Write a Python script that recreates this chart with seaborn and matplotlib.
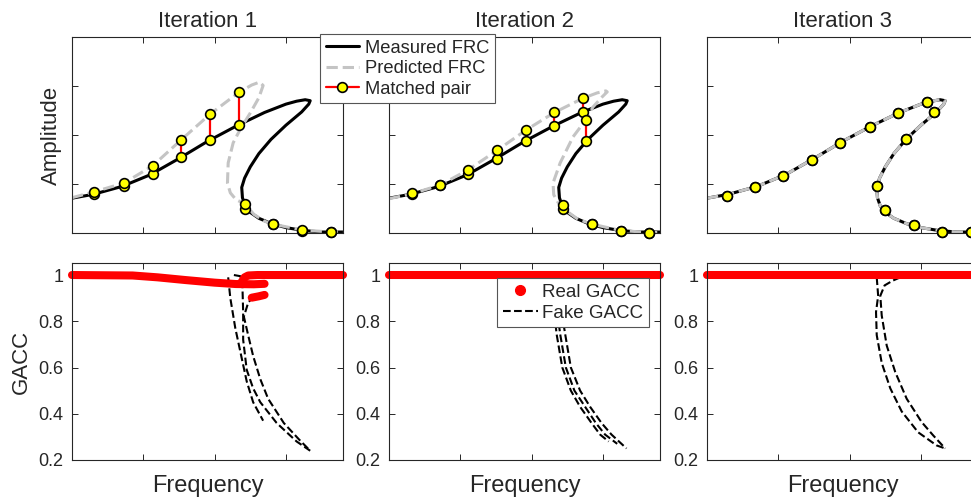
import matplotlib
matplotlib.use("Agg")
import matplotlib.pyplot as plt
from matplotlib.lines import Line2D
import seaborn as sns

# ---- data (frequency / amplitude in arbitrary units) ----
# measured FRC (same in all three iterations)
meas_x = [0.00, 0.30, 0.70, 1.10, 1.50, 1.90, 2.30, 2.70, 3.00, 3.15, 3.27, 3.34, 3.32, 3.22,
          3.00, 2.79, 2.62, 2.50, 2.42, 2.38, 2.39, 2.43, 2.50, 2.62, 2.80, 3.00, 3.25, 3.50, 3.80]
meas_y = [0.71, 0.79, 0.95, 1.19, 1.52, 1.87, 2.18, 2.46, 2.63, 2.69, 2.72, 2.70, 2.63, 2.47,
          2.20, 1.91, 1.62, 1.35, 1.12, 0.93, 0.72, 0.55, 0.42, 0.30, 0.19, 0.11, 0.05, 0.02, 0.02]

# predicted FRC, iteration 1
pred1_x = [0.00, 0.31, 0.73, 1.13, 1.53, 1.94, 2.34, 2.52, 2.63, 2.68, 2.62, 2.50, 2.36, 2.26,
           2.19, 2.18, 2.22, 2.30, 2.43, 2.55, 2.70, 2.82, 3.23, 3.63, 3.80]
pred1_y = [0.72, 0.84, 1.02, 1.37, 1.90, 2.43, 2.87, 3.02, 3.08, 3.01, 2.76, 2.45, 2.12, 1.84,
           1.43, 1.02, 0.82, 0.68, 0.59, 0.38, 0.24, 0.18, 0.06, 0.02, 0.02]
# predicted FRC, iteration 2
pred2_x = [0.00, 0.32, 0.72, 1.11, 1.52, 1.92, 2.32, 2.72, 2.92, 3.04, 3.06, 2.99, 2.86, 2.76,
           2.58, 2.40, 2.30, 2.31, 2.38, 2.48, 2.65, 2.85, 3.25, 3.65, 3.80]
pred2_y = [0.70, 0.80, 0.98, 1.29, 1.69, 2.10, 2.46, 2.75, 2.86, 2.90, 2.88, 2.78, 2.57, 2.31,
           1.96, 1.43, 1.02, 0.78, 0.60, 0.46, 0.28, 0.18, 0.05, 0.01, 0.01]
# predicted FRC, iteration 3 lies on the measured one
pred3_x = meas_x
pred3_y = meas_y

# matched pairs (frequency, measured amplitude, predicted amplitude)
pair1_x = [0.31, 0.73, 1.13, 1.53, 1.94, 2.34, 2.43, 2.82, 3.23, 3.63]
pair1_meas = [0.80, 0.95, 1.20, 1.55, 1.90, 2.20, 0.50, 0.18, 0.05, 0.02]
pair1_pred = [0.84, 1.02, 1.37, 1.90, 2.43, 2.87, 0.59, 0.19, 0.06, 0.02]

pair2_x = [0.32, 0.72, 1.11, 1.52, 1.92, 2.32, 2.72, 2.76, 2.44, 2.85, 3.25, 3.65]
pair2_meas = [0.79, 0.97, 1.20, 1.52, 1.88, 2.18, 2.46, 1.88, 0.48, 0.18, 0.05, 0.01]
pair2_pred = [0.81, 0.98, 1.29, 1.69, 2.10, 2.46, 2.75, 2.31, 0.57, 0.18, 0.05, 0.01]

pair3_x = [0.28, 0.67, 1.07, 1.47, 1.87, 2.29, 2.68, 3.08, 3.19, 2.79, 2.38, 2.49, 2.90, 3.30, 3.70]
pair3_meas = [0.76, 0.93, 1.17, 1.50, 1.84, 2.16, 2.44, 2.67, 2.46, 1.91, 0.95, 0.46, 0.16, 0.03, 0.03]
pair3_pred = pair3_meas

# real GACC
real1_a_x = [0.00, 0.85, 1.20, 1.60, 2.00, 2.30, 2.55, 2.70]
real1_a_y = [1.000, 0.998, 0.990, 0.978, 0.967, 0.961, 0.960, 0.962]
real1_b_x = [2.36, 2.39, 2.42, 2.47, 2.60, 3.80]
real1_b_y = [0.962, 0.975, 0.990, 0.998, 1.000, 1.000]
real1_c_x = [2.52, 2.62, 2.70]
real1_c_y = [0.902, 0.908, 0.914]
real_flat_x = [0.00, 3.80]
real_flat_y = [1.00, 1.00]

# fake GACC
fake1_a_x = [2.19, 2.22, 2.29, 2.38, 2.45, 2.54, 2.68]
fake1_a_y = [0.99, 0.90, 0.77, 0.64, 0.54, 0.45, 0.37]
fake1_b_x = [2.27, 2.36, 2.39, 2.40, 2.40, 2.45, 2.54, 2.64, 2.87, 3.15, 3.34]
fake1_b_y = [1.00, 0.995, 0.95, 0.84, 0.72, 0.59, 0.51, 0.45, 0.36, 0.28, 0.24]
fake1_c_x = [2.55, 2.47, 2.41, 2.47, 2.54, 2.64, 2.75, 2.97, 3.18, 3.34]
fake1_c_y = [0.91, 0.88, 0.82, 0.74, 0.65, 0.55, 0.465, 0.36, 0.29, 0.24]

fake2_a_x = [2.28, 2.31, 2.35, 2.43, 2.55, 2.68, 2.84, 2.96, 3.08]
fake2_a_y = [0.98, 0.86, 0.745, 0.60, 0.50, 0.43, 0.36, 0.31, 0.28]
fake2_b_x = [2.32, 2.35, 2.40, 2.48, 2.60, 2.75, 2.90, 3.03, 3.20]
fake2_b_y = [0.98, 0.86, 0.745, 0.60, 0.50, 0.43, 0.36, 0.31, 0.27]
fake2_c_x = [2.37, 2.41, 2.47, 2.55, 2.68, 2.82, 2.98, 3.12, 3.33]
fake2_c_y = [0.98, 0.86, 0.745, 0.60, 0.50, 0.43, 0.36, 0.31, 0.25]

fake3_a_x = [2.38, 2.40, 2.37, 2.38, 2.45, 2.57, 2.73, 2.96, 3.22, 3.34]
fake3_a_y = [0.99, 0.91, 0.84, 0.74, 0.62, 0.51, 0.41, 0.32, 0.263, 0.25]
fake3_b_x = [2.71, 2.60, 2.49, 2.43, 2.45, 2.52, 2.64, 2.80, 3.01, 3.17, 3.34]
fake3_b_y = [0.99, 0.975, 0.955, 0.91, 0.825, 0.695, 0.58, 0.465, 0.364, 0.307, 0.25]

titles = ["Iteration 1", "Iteration 2", "Iteration 3"]
gacc_ticks = [0.2, 0.4, 0.6, 0.8, 1.0]
gacc_ticklabels = ["0.2", "0.4", "0.6", "0.8", "1"]

# ---- style ----
sns.set_theme(style="ticks")
plt.rcParams["font.family"] = ["Liberation Sans", "DejaVu Sans"]
plt.rcParams.update({
    "xtick.direction": "in", "ytick.direction": "in",
    "xtick.top": True, "ytick.right": True,
    "xtick.major.size": 4, "ytick.major.size": 4,
    "xtick.major.width": 0.7, "ytick.major.width": 0.7,
    "axes.linewidth": 0.8, "axes.edgecolor": "#262626",
    "xtick.color": "#262626", "ytick.color": "#262626",
})

GRAY = "#c4c4c4"

fig = plt.figure(figsize=(9.71, 5.0), dpi=100)
lefts = [72 / 971, 389 / 971, 707 / 971]
w = 271 / 971
top_axes = [fig.add_axes([l, 0.534, w, 0.392]) for l in lefts]
bot_axes = [fig.add_axes([l, 0.080, w, 0.394]) for l in lefts]

preds = [(pred1_x, pred1_y), (pred2_x, pred2_y), (pred3_x, pred3_y)]
pairs = [(pair1_x, pair1_meas, pair1_pred), (pair2_x, pair2_meas, pair2_pred),
         (pair3_x, pair3_meas, pair3_pred)]

for ax, (px, py), (qx, qm, qp), title in zip(top_axes, preds, pairs, titles):
    sns.lineplot(x=meas_x, y=meas_y, sort=False, estimator=None, color="black", lw=2.2, ax=ax)
    sns.lineplot(x=px, y=py, sort=False, estimator=None, color=GRAY, lw=2.2,
                 linestyle="--", ax=ax)
    for x, m, p in zip(qx, qm, qp):
        ax.plot([x, x], [m, p], color="red", lw=1.6, zorder=3)
    ax.plot(qx + qx, qm + qp, ls="none", marker="o", ms=7, mfc="yellow", mec="black",
            mew=1.2, zorder=4, clip_on=False)
    ax.set_xlim(0, 3.8)
    ax.set_ylim(0, 4)
    ax.set_xticks([1, 2, 3])
    ax.set_yticks([1, 2, 3])
    ax.set_xticklabels([])
    ax.set_yticklabels([])
    ax.set_title(title, fontsize=16, pad=7)

top_axes[0].set_ylabel("Amplitude", fontsize=16, labelpad=4)

reals = [[(real1_a_x, real1_a_y), (real1_b_x, real1_b_y), (real1_c_x, real1_c_y)],
         [(real_flat_x, real_flat_y)],
         [(real_flat_x, real_flat_y)]]
fakes = [[(fake1_a_x, fake1_a_y), (fake1_b_x, fake1_b_y), (fake1_c_x, fake1_c_y)],
         [(fake2_a_x, fake2_a_y), (fake2_b_x, fake2_b_y), (fake2_c_x, fake2_c_y)],
         [(fake3_a_x, fake3_a_y), (fake3_b_x, fake3_b_y)]]

for ax, rs, fs in zip(bot_axes, reals, fakes):
    for fx, fy in fs:
        sns.lineplot(x=fx, y=fy, sort=False, estimator=None, color="black", lw=1.5,
                     linestyle="--", ax=ax)
    for rx, ry in rs:
        sns.lineplot(x=rx, y=ry, sort=False, estimator=None, color="red", lw=5.8,
                     solid_capstyle="round", clip_on=False, ax=ax)
    ax.set_xlim(0, 3.8)
    ax.set_ylim(0.2, 1.052)
    ax.set_xticks([1, 2, 3])
    ax.set_xticklabels([])
    ax.set_yticks(gacc_ticks)
    ax.set_yticklabels(gacc_ticklabels)
    ax.tick_params(axis="y", labelsize=13, pad=6)
    ax.set_xlabel("Frequency", fontsize=17, labelpad=7)

bot_axes[0].set_ylabel("GACC", fontsize=16, labelpad=5)

# legends
top_handles = [
    Line2D([], [], color="black", lw=2.2),
    Line2D([], [], color=GRAY, lw=2.2, ls="--"),
    Line2D([], [], color="red", lw=1.6, marker="o", ms=7, mfc="yellow", mec="black", mew=1.2),
]
leg = fig.legend(top_handles, ["Measured FRC", "Predicted FRC", "Matched pair"],
                 loc="upper left", bbox_to_anchor=(320 / 971, 1 - 34 / 500),
                 bbox_transform=fig.transFigure, fontsize=13.2, frameon=True, fancybox=False,
                 framealpha=1, edgecolor="#555555", borderpad=0.3, labelspacing=0.2,
                 handlelength=1.8, handletextpad=0.35, borderaxespad=0)
leg.get_frame().set_linewidth(0.8)

bot_handles = [
    Line2D([], [], color="red", ls="none", marker="o", ms=7),
    Line2D([], [], color="black", lw=1.5, ls="--"),
]
leg2 = bot_axes[1].legend(bot_handles, ["Real GACC", "Fake GACC"], loc="upper left",
                          bbox_to_anchor=(497 / 971, 1 - 278 / 500),
                          bbox_transform=fig.transFigure, fontsize=13.5, frameon=True,
                          fancybox=False, framealpha=1, edgecolor="#555555", borderpad=0.3,
                          labelspacing=0.2, handlelength=1.9, handletextpad=0.2,
                          borderaxespad=0)
leg2.get_frame().set_linewidth(0.8)

fig.savefig("out.png", dpi=100)
